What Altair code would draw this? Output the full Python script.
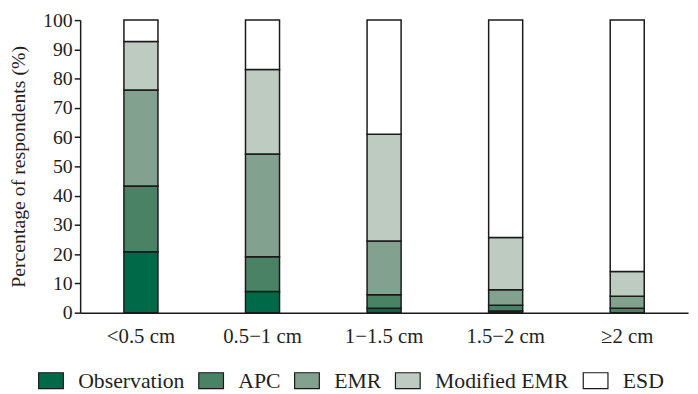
import altair as alt
import pandas as pd

categories = ["<0.5 cm", "0.5\u22121 cm", "1\u22121.5 cm", "1.5\u22122 cm", "\u22652 cm"]
methods = ["Observation", "APC", "EMR", "Modified EMR", "ESD"]
colors = ["#006a48", "#4a8266", "#83a18f", "#bdcbc0", "#ffffff"]

observation = [20.8, 7.2, 1.5, 0.6, 0.0]
apc = [22.5, 11.9, 4.6, 1.9, 1.5]
emr = [32.8, 35.1, 18.4, 5.3, 4.1]
modified_emr = [16.6, 28.9, 36.5, 17.9, 8.5]
esd = [7.3, 16.9, 39.0, 74.3, 85.9]

series = [observation, apc, emr, modified_emr, esd]
rows = []
for mi, (m, vals) in enumerate(zip(methods, series)):
    for c, v in zip(categories, vals):
        rows.append({"size": c, "method": m, "value": v, "order": mi})
df = pd.DataFrame(rows)

FONT = "Liberation Serif"
TXT = "#231f20"

chart = alt.Chart(df).mark_bar(stroke="#1a1a1a", strokeWidth=1.5).encode(
    x=alt.X("size:N", sort=categories, title=None,
            scale=alt.Scale(paddingInner=0.72, paddingOuter=0.36),
            axis=alt.Axis(labelAngle=0, ticks=False, labelPadding=13,
                          labelFontSize=21, labelFont=FONT, labelColor=TXT,
                          domainColor="#1a1a1a", domainWidth=1.5)),
    y=alt.Y("value:Q", stack="zero", title="Percentage of respondents (%)",
            scale=alt.Scale(domain=[0, 100], nice=False),
            axis=alt.Axis(values=list(range(0, 101, 10)), grid=False,
                          tickSize=6, tickColor="#1a1a1a", tickWidth=1.5,
                          domainColor="#1a1a1a", domainWidth=1.5,
                          labelFontSize=20, labelFont=FONT, labelColor=TXT,
                          labelPadding=2,
                          titleFontSize=20, titleFont=FONT, titleColor=TXT,
                          titleFontWeight="normal", titlePadding=14)),
    color=alt.Color("method:N", sort=methods,
                    scale=alt.Scale(domain=methods, range=colors),
                    legend=alt.Legend(title=None, orient="none", direction="horizontal",
                                      legendX=-43, legendY=351, padding=0,
                                      symbolType="M-1,-0.64L1,-0.64L1,0.64L-1,0.64Z",
                                      symbolSize=625, symbolStrokeColor="#1a1a1a",
                                      symbolStrokeWidth=1.2, symbolOpacity=1,
                                      labelFontSize=22, labelFont=FONT, labelColor=TXT,
                                      labelOffset=14, columnPadding=11)),
    order=alt.Order("order:Q"),
).properties(
    width=615, height=296,
    autosize=alt.AutoSizeParams(type="none"),
    padding={"left": 73, "top": 10, "right": 2, "bottom": 78},
).configure_view(stroke=None)

chart.save("out.html", embed_options={"renderer": "svg", "actions": False})
